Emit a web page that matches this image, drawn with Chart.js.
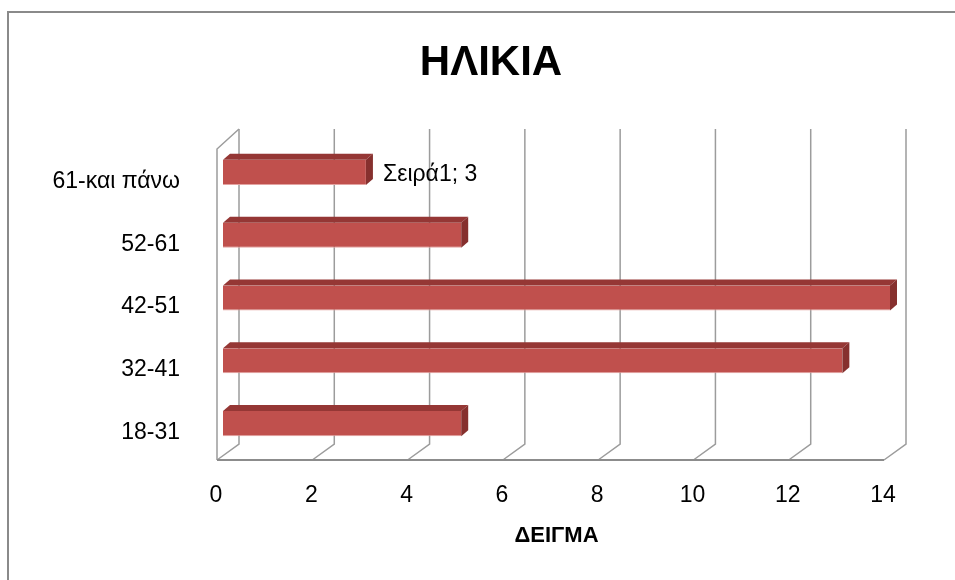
<!DOCTYPE html>
<html>
<head>
<meta charset="utf-8">
<script src="https://cdn.jsdelivr.net/npm/chart.js@4.4.0/dist/chart.umd.min.js"></script>
<style>
  html, body { margin: 0; padding: 0; background: #fff; overflow: hidden; }
  canvas { display: block; }
</style>
</head>
<body>
<canvas id="ageChart" width="955" height="580"></canvas>
<script>
        // Data (bottom to top)
        const categories = ['18-31', '32-41', '42-51', '52-61', '61-και πάνω'];
        const sampleValues = [5, 13, 14, 5, 3];
        const seriesName = 'Σειρά1';
        const labelledBars = [4];
        const chartTitle = 'ΗΛΙΚΙΑ';
        const axisTitle = 'ΔΕΙΓΜΑ';

        const colors = {
            front: '#c0504d',
            top: '#953735',
            side: '#86302e',
            grid: '#9c9c9c',
            floor: '#8c8c8c',
            frame: '#8a8a8a',
            text: '#000000'
        };
        const fontFamily = '"Liberation Sans", Arial, sans-serif';

        // fake 3D: bar depth and back wall shift
        const depth = { x: 7, y: 6 };
        const wallShift = 16;

        const excel3d = {
            id: 'excel3d',
            beforeDraw(chart) {
                const ctx = chart.ctx;
                ctx.save();
                ctx.strokeStyle = colors.frame;
                ctx.lineWidth = 2;
                ctx.strokeRect(8, 12, 1000, 1000);
                // chart title (centred on the plot like the original)
                ctx.fillStyle = colors.text;
                ctx.font = 'bold 42px ' + fontFamily;
                ctx.textAlign = 'center';
                ctx.textBaseline = 'middle';
                ctx.fillText(chartTitle, 491, 63);
                ctx.restore();
            },
            beforeDatasetsDraw(chart) {
                const { ctx, chartArea: area, scales: { x } } = chart;
                const top = area.top - 12;
                const back = area.bottom - 11;
                const front = area.bottom + 5;
                ctx.save();
                ctx.strokeStyle = colors.grid;
                ctx.lineWidth = 1.5;
                x.ticks.forEach(t => {
                    const px = x.getPixelForValue(t.value);
                    ctx.beginPath();
                    ctx.moveTo(px + wallShift, top);
                    ctx.lineTo(px + wallShift, back);
                    ctx.lineTo(px - 6, front);
                    ctx.stroke();
                });
                // left wall
                const x0 = x.getPixelForValue(x.min);
                ctx.beginPath();
                ctx.moveTo(x0 + wallShift, top);
                ctx.lineTo(x0 - 6, top + 20);
                ctx.lineTo(x0 - 6, front);
                ctx.stroke();
                // floor edge
                ctx.strokeStyle = colors.floor;
                ctx.lineWidth = 2;
                ctx.beginPath();
                ctx.moveTo(x0 - 6, front);
                ctx.lineTo(x.getPixelForValue(x.max) - 6, front);
                ctx.stroke();
                ctx.restore();
            },
            afterDatasetsDraw(chart) {
                const ctx = chart.ctx;
                const meta = chart.getDatasetMeta(0);
                ctx.save();
                meta.data.forEach((bar, i) => {
                    const { x: end, y, base, height } = bar.getProps(['x', 'y', 'base', 'height'], true);
                    const t = y - height / 2;
                    const b = y + height / 2;
                    ctx.fillStyle = colors.top;
                    ctx.beginPath();
                    ctx.moveTo(base, t);
                    ctx.lineTo(base + depth.x, t - depth.y);
                    ctx.lineTo(end + depth.x, t - depth.y);
                    ctx.lineTo(end, t);
                    ctx.closePath();
                    ctx.fill();
                    ctx.fillStyle = colors.side;
                    ctx.beginPath();
                    ctx.moveTo(end, t);
                    ctx.lineTo(end + depth.x, t - depth.y);
                    ctx.lineTo(end + depth.x, b - depth.y);
                    ctx.lineTo(end, b);
                    ctx.closePath();
                    ctx.fill();

                    if (labelledBars.includes(i)) {
                        ctx.fillStyle = colors.text;
                        ctx.font = '23px ' + fontFamily;
                        ctx.textBaseline = 'middle';
                        ctx.textAlign = 'left';
                        ctx.fillText(seriesName + '; ' + sampleValues[i], end + 17, y + 2);
                    }
                });
                ctx.restore();
            }
        };

        const ctx = document.getElementById('ageChart').getContext('2d');

        new Chart(ctx, {
            type: 'bar',
            data: {
                labels: categories,
                datasets: [{
                    label: seriesName,
                    data: sampleValues,
                    backgroundColor: colors.front,
                    borderColor: '#e3a3a1',
                    borderWidth: { top: 0, right: 0, bottom: 1, left: 0 },
                    borderSkipped: false,
                    barPercentage: 0.4,
                    categoryPercentage: 1.0
                }]
            },
            options: {
                indexAxis: 'y',
                responsive: false,
                animation: false,
                devicePixelRatio: 1,
                layout: {
                    padding: { top: 141, left: 20, right: 65, bottom: 0 }
                },
                plugins: {
                    legend: { display: false },
                    tooltip: { enabled: false },
                    title: { display: false }
                },
                scales: {
                    x: {
                        min: 0,
                        max: 14,
                        grid: { display: false, drawTicks: false },
                        border: { display: false },
                        ticks: {
                            stepSize: 2,
                            color: colors.text,
                            padding: 27,
                            labelOffset: -7,
                            font: { family: fontFamily, size: 23 }
                        },
                        title: {
                            display: true,
                            text: axisTitle,
                            color: colors.text,
                            font: { family: fontFamily, size: 22, weight: 'bold' },
                            padding: { top: 10, bottom: 31 }
                        },
                        afterFit(scale) {
                            scale.height = 125;
                        }
                    },
                    y: {
                        reverse: true,
                        grid: { display: false, drawTicks: false },
                        border: { display: false },
                        ticks: {
                            color: colors.text,
                            padding: 43,
                            labelOffset: 9,
                            font: { family: fontFamily, size: 23 }
                        },
                        afterFit(scale) {
                            scale.width = 203;
                            scale.paddingTop = 0;
                            scale.paddingBottom = 0;
                        }
                    }
                }
            },
            plugins: [excel3d]
        });
</script>
</body>
</html>
